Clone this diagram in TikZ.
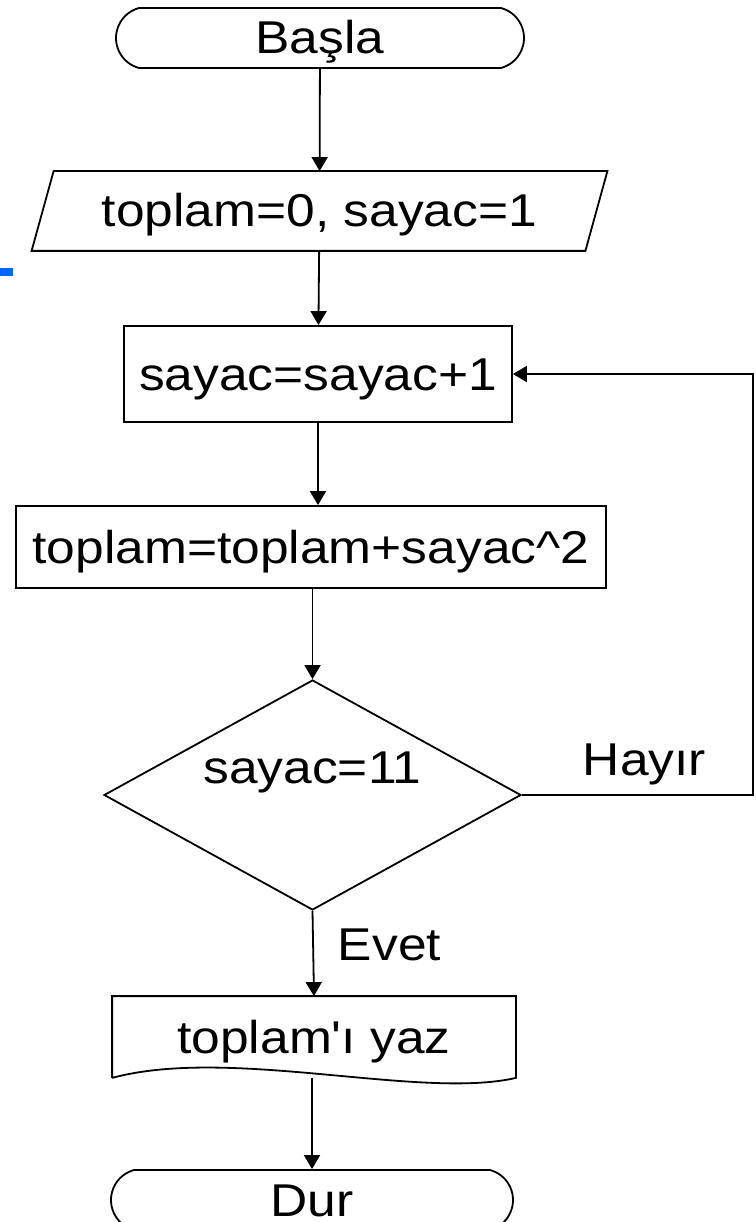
\documentclass[tikz,border=0pt]{standalone}
\usepackage{fontspec}
\setmainfont{Liberation Sans}[FakeStretch=1.12, Ligatures=TeXOff]
\usetikzlibrary{shapes.geometric,shapes.misc,arrows.meta}
\definecolor{markblue}{RGB}{0,102,255}
\begin{document}
\begin{tikzpicture}[x=1pt, y=-1pt, line width=1.8pt,
	every node/.style={font=\fontsize{46}{55}\selectfont, text height=35pt, text depth=3pt, inner sep=0pt},
	terminal/.style={draw, rounded rectangle, rounded rectangle arc length=150, minimum width=408pt, minimum height=60pt},
	io/.style={minimum width=552pt, minimum height=78pt},
	process/.style={draw, rectangle, minimum height=82pt},
	decision/.style={draw, diamond, minimum width=417pt, minimum height=230pt},
	document/.style={minimum width=402pt, minimum height=80pt},
	arrow/.style={-{Triangle[length=14pt,width=16pt]}}]
	\clip (0,0) rectangle (755,1222);
	\fill[markblue] (0,268) rectangle (13,276);
	% shapes
	\node[terminal] (start) at (320,38) {Başla};
	\node[io] (init) at (319.5,211) {toplam=0, sayac=1};
	\draw ([xshift=11pt]init.north west) -- ([xshift=11pt]init.north east)
		-- ([xshift=-11pt]init.south east) -- ([xshift=-11pt]init.south west) -- cycle;
	\node[process, minimum width=388pt, minimum height=96pt] (incr) at (318,374) {sayac=sayac+1};
	\node[process, minimum width=590pt] (sum) at (311,547) {toplam=toplam+sayac\textasciicircum2};
	\node[decision, label={[yshift=28pt]center:sayac=11}] (check) at (312.5,795) {};
	\node[document] (output) at (314,1037) {toplam'ı yaz};
	\draw (output.south west) -- (output.north west) -- (output.north east) -- (output.south east)
		.. controls (420,1100) and (230,1046) .. (output.south west);
	\node[terminal, minimum width=402pt] (stop) at (312,1200) {Dur};
	% connectors
	\draw[arrow] (start) -- (init);
	\draw[arrow] (init) -- (incr);
	\draw[arrow] (incr.south) -- (incr.south |- sum.north);
	\draw[arrow] (check.north |- sum.south) -- (check.north);
	\draw[arrow] (check.south) -- (output.north);
	\draw[arrow] (output.south -| stop.north) -- (stop.north);
	\draw[arrow] (check.east) -- (753,795) |- (incr.east);
	\node[anchor=base west] (yes) at (337,960) {Evet};
	\node[anchor=base west] (no) at (582,775) {Hayır};
\end{tikzpicture}
\end{document}
